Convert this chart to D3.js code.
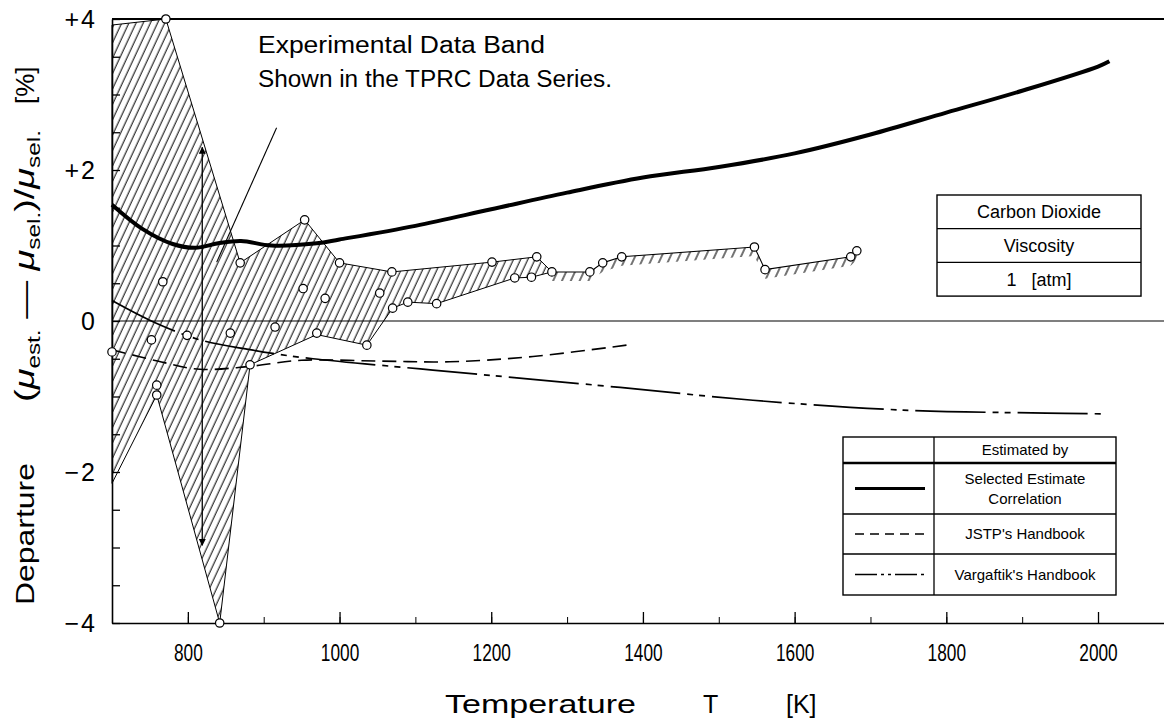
<!DOCTYPE html>
<html>
<head>
<meta charset="utf-8">
<script src="https://cdn.jsdelivr.net/npm/d3@7"></script>
<style>
  body { margin: 0; background: #fff; }
  svg { display: block; font-family: "Liberation Sans", Arial, Helvetica, sans-serif; }
</style>
</head>
<body>
<div id="chart"></div>
<script>
// axis ticks
const tempTicks = [800, 1000, 1200, 1400, 1600, 1800, 2000];
const depTicks = [4, 2, 0, -2, -4];
const depTickLabels = ["+4", "+2", "0", "\u22122", "\u22124"];

// selected estimate correlation (thick curve)
const selT   = [700, 740, 780, 810, 840, 870, 910, 970, 1000, 1100, 1200, 1300, 1400, 1500, 1600, 1700, 1800, 1900, 2000, 2015];
const selDep = [1.54, 1.22, 1.02, 0.97, 1.03, 1.06, 1.00, 1.03, 1.08, 1.26, 1.48, 1.70, 1.90, 2.04, 2.22, 2.47, 2.76, 3.05, 3.37, 3.44];

// JSTP's handbook (dashed)
const jstpT   = [700, 760, 816, 882, 950, 1050, 1145, 1255, 1385];
const jstpDep = [-0.38, -0.53, -0.64, -0.60, -0.52, -0.53, -0.54, -0.47, -0.31];

// Vargaftik's handbook (dash-dot)
const vargT   = [700, 754, 816, 882, 912, 965, 1123, 1370, 1545, 1743, 1932, 2009];
const vargDep = [0.27, -0.01, -0.25, -0.38, -0.43, -0.50, -0.65, -0.88, -1.05, -1.18, -1.22, -1.23];

// experimental data band
const bandUpperT   = [700, 771, 869, 954, 1000, 1069, 1201, 1260, 1280];
const bandUpperDep = [3.92, 4.0, 0.77, 1.34, 0.77, 0.65, 0.78, 0.85, 0.65];
const bandLowerT   = [700, 759, 842, 882, 970, 1036, 1070, 1090, 1128, 1231, 1253, 1280];
const bandLowerDep = [-2.15, -0.98, -4.0, -0.58, -0.18, -0.32, 0.17, 0.25, 0.23, 0.57, 0.58, 0.65];
const fringeT   = [1280, 1330, 1347, 1372, 1547, 1561, 1674, 1682];
const fringeDep = [0.65, 0.65, 0.77, 0.85, 0.98, 0.68, 0.85, 0.93];

// data points (open circles)
const pointT   = [771, 869, 954, 1000, 1069, 1201, 1260, 1280, 1330, 1347, 1372, 1547, 1561, 1674, 1682,
                  700, 759, 759, 842, 882, 752, 799, 856, 915, 970, 1036, 1070, 1090, 1128, 1231, 1253, 767, 952, 981, 1053];
const pointDep = [4.0, 0.77, 1.34, 0.77, 0.65, 0.78, 0.85, 0.65, 0.65, 0.77, 0.85, 0.98, 0.68, 0.85, 0.93,
                  -0.41, -0.85, -0.98, -4.0, -0.58, -0.25, -0.19, -0.16, -0.08, -0.16, -0.32, 0.17, 0.25, 0.23, 0.57, 0.58, 0.52, 0.43, 0.30, 0.37];

// arrow (spread of the band) and leader line
const arrowT = 819, arrowDep = [2.3, -2.97];
const leaderT = [917, 838], leaderDep = [2.56, 0.78];

const legendRows = ["Selected Estimate|Correlation", "JSTP's Handbook", "Vargaftik's Handbook"];
const infoRows = ["Carbon Dioxide", "Viscosity", "1   [atm]"];

const W = 1164, H = 722;
const svg = d3.select("#chart").append("svg").attr("width", W).attr("height", H);

const x = d3.scaleLinear().domain([700, 2087]).range([112, 1164]);
const y = d3.scaleLinear().domain([-4, 4]).range([623, 19]);

const defs = svg.append("defs");
defs.append("pattern").attr("id", "hatch")
  .attr("patternUnits", "userSpaceOnUse")
  .attr("width", 6.5).attr("height", 12)
  .attr("patternTransform", "rotate(25)")
  .append("line").attr("x1", 3).attr("y1", 0).attr("x2", 3).attr("y2", 12)
  .attr("stroke", "#000").attr("stroke-width", 1);
defs.append("pattern").attr("id", "fringe")
  .attr("patternUnits", "userSpaceOnUse")
  .attr("width", 8).attr("height", 12)
  .attr("patternTransform", "rotate(25)")
  .append("line").attr("x1", 4).attr("y1", 0).attr("x2", 4).attr("y2", 12)
  .attr("stroke", "#000").attr("stroke-width", 1.1);
defs.append("marker").attr("id", "arr")
  .attr("viewBox", "0 0 10 10").attr("refX", 9).attr("refY", 5)
  .attr("markerWidth", 7).attr("markerHeight", 9)
  .attr("markerUnits", "userSpaceOnUse")
  .attr("orient", "auto-start-reverse")
  .append("path").attr("d", "M0,0 L10,5 L0,10 z").attr("fill", "#000");

// band
const zipped = (ts, vs) => ts.map((t, i) => [t, vs[i]]);
const line = d3.line().x(d => x(d[0])).y(d => y(d[1]));
const bandPoly = zipped(bandUpperT, bandUpperDep).concat(zipped(bandLowerT, bandLowerDep).reverse());
svg.append("path").attr("d", line(bandPoly) + "Z")
  .attr("fill", "url(#hatch)").attr("stroke", "#000").attr("stroke-width", 1);

const fringe = zipped(fringeT, fringeDep);
svg.append("path")
  .attr("d", d3.area().x(d => x(d[0])).y1(d => y(d[1])).y0(d => y(d[1]) + 9)(fringe))
  .attr("fill", "url(#fringe)");
svg.append("path").attr("d", line(fringe)).attr("fill", "none").attr("stroke", "#000").attr("stroke-width", 1.1);

// axes
const gx = svg.append("g").attr("transform", `translate(0,${y(-4)})`);
gx.call(d3.axisBottom(x).tickValues(d3.range(800, 2087, 100)).tickSize(-6).tickSizeOuter(0).tickFormat(""));
gx.call(g => g.select(".domain").attr("stroke-width", 1.6));
const gx2 = svg.append("g").attr("transform", `translate(0,${y(-4)})`);
gx2.call(d3.axisBottom(x).tickValues(tempTicks).tickSize(-11).tickPadding(21).tickSizeOuter(0).tickFormat(d3.format("d")));
gx2.select(".domain").remove();
gx2.selectAll("text").attr("font-size", 24).attr("font-family", "Liberation Sans, Arial, sans-serif")
  .attr("transform", "scale(0.72,1)").attr("fill", "#000");
gx2.selectAll("line").attr("stroke-width", 1.3);

const gy = svg.append("g").attr("transform", `translate(${x(700)},0)`);
gy.call(d3.axisLeft(y).tickValues(d3.range(-4, 4.01, 0.5)).tickSize(-8).tickSizeOuter(0).tickFormat(""));
gy.selectAll("line").attr("stroke-width", 1.3);
gy.select(".domain").attr("stroke-width", 1.6);

svg.selectAll(".ylab").data(depTicks).join("text")
  .attr("x", 97).attr("y", d => y(d)).attr("dy", "0.36em")
  .attr("text-anchor", "end").attr("font-size", 25).attr("letter-spacing", 2)
  .text((d, i) => depTickLabels[i]);

// top frame line and zero line
svg.append("line").attr("x1", x(700)).attr("x2", W).attr("y1", y(4)).attr("y2", y(4))
  .attr("stroke", "#000").attr("stroke-width", 2.2);
svg.append("line").attr("x1", x(700)).attr("x2", W).attr("y1", y(0)).attr("y2", y(0))
  .attr("stroke", "#000").attr("stroke-width", 1.1);

// correlation curves
svg.append("path").attr("d", d3.line().x(d => x(d[0])).y(d => y(d[1])).curve(d3.curveCatmullRom)(zipped(selT, selDep)))
  .attr("fill", "none").attr("stroke", "#000").attr("stroke-width", 4);
svg.append("path").attr("d", d3.line().x(d => x(d[0])).y(d => y(d[1])).curve(d3.curveCatmullRom)(zipped(jstpT, jstpDep)))
  .attr("fill", "none").attr("stroke", "#000").attr("stroke-width", 1.6).attr("stroke-dasharray", "14,7");
svg.append("path").attr("d", d3.line().x(d => x(d[0])).y(d => y(d[1])).curve(d3.curveCatmullRom)(zipped(vargT, vargDep)))
  .attr("fill", "none").attr("stroke", "#000").attr("stroke-width", 1.7).attr("stroke-dasharray", "70,7,6,6,6,7");

// arrow and leader
svg.append("line").attr("x1", x(arrowT)).attr("x2", x(arrowT))
  .attr("y1", y(arrowDep[0])).attr("y2", y(arrowDep[1]))
  .attr("stroke", "#000").attr("stroke-width", 1.3)
  .attr("marker-start", "url(#arr)").attr("marker-end", "url(#arr)");
svg.append("line").attr("x1", x(leaderT[0])).attr("x2", x(leaderT[1]))
  .attr("y1", y(leaderDep[0])).attr("y2", y(leaderDep[1]))
  .attr("stroke", "#000").attr("stroke-width", 1.1);

// points
svg.selectAll(".pt").data(pointT).join("circle")
  .attr("cx", d => x(d)).attr("cy", (d, i) => y(pointDep[i])).attr("r", 4.2)
  .attr("fill", "#fff").attr("stroke", "#000").attr("stroke-width", 1.2);

// annotation
svg.append("text").attr("x", 258).attr("y", 53).attr("font-size", 23)
  .attr("textLength", 287).attr("lengthAdjust", "spacingAndGlyphs").text("Experimental Data Band");
svg.append("text").attr("x", 258).attr("y", 87).attr("font-size", 23)
  .attr("textLength", 354).attr("lengthAdjust", "spacingAndGlyphs").text("Shown in the TPRC Data Series.");

// x title
svg.append("text").attr("x", 445).attr("y", 713).attr("font-size", 25)
  .attr("textLength", 191).attr("lengthAdjust", "spacingAndGlyphs").text("Temperature");
svg.append("text").attr("x", 703).attr("y", 713).attr("font-size", 25).text("T");
svg.append("text").attr("x", 786).attr("y", 713).attr("font-size", 25).text("[K]");

// y title
const yt = svg.append("g").attr("transform", "translate(34,0) rotate(-90)");
yt.append("text").attr("x", -605).attr("y", 0).attr("font-size", 26)
  .attr("textLength", 142).attr("lengthAdjust", "spacingAndGlyphs").text("Departure");
const f = yt.append("text").attr("x", -402).attr("y", 0).attr("font-size", 28)
  .attr("textLength", 272).attr("lengthAdjust", "spacingAndGlyphs");
f.append("tspan").text("(");
f.append("tspan").attr("font-style", "italic").text("\u03bc");
f.append("tspan").attr("font-size", 18).attr("dy", 6).text("est.");
f.append("tspan").attr("dy", -6).text(" \u2014 ");
f.append("tspan").attr("font-style", "italic").text("\u03bc");
f.append("tspan").attr("font-size", 18).attr("dy", 6).text("sel.");
f.append("tspan").attr("dy", -6).text(")/");
f.append("tspan").attr("font-style", "italic").text("\u03bc");
f.append("tspan").attr("font-size", 18).attr("dy", 6).text("sel.");
yt.append("text").attr("x", -104).attr("y", 0).attr("font-size", 26).text("[%]");

// info table
const info = svg.append("g");
const ib = { x0: 937, x1: 1141, y0: 195, h: 33.7 };
info.append("rect").attr("x", ib.x0).attr("y", ib.y0).attr("width", ib.x1 - ib.x0).attr("height", ib.h * 3)
  .attr("fill", "#fff").attr("stroke", "#000").attr("stroke-width", 1.4);
infoRows.forEach((r, i) => {
  if (i > 0) info.append("line").attr("x1", ib.x0).attr("x2", ib.x1)
    .attr("y1", ib.y0 + i * ib.h).attr("y2", ib.y0 + i * ib.h).attr("stroke", "#000").attr("stroke-width", 1.3);
  info.append("text").attr("x", (ib.x0 + ib.x1) / 2).attr("y", ib.y0 + i * ib.h + ib.h / 2)
    .attr("dy", "0.36em").attr("text-anchor", "middle").attr("font-size", 18)
    .attr("xml:space", "preserve").text(r);
});

// legend table
const lg = svg.append("g");
const lb = { x0: 843, x1: 1116, xc: 934, rows: [437, 463, 514, 554, 595] };
lg.append("rect").attr("x", lb.x0).attr("y", lb.rows[0]).attr("width", lb.x1 - lb.x0)
  .attr("height", lb.rows[4] - lb.rows[0]).attr("fill", "#fff").attr("stroke", "#000").attr("stroke-width", 1.4);
lg.append("line").attr("x1", lb.xc).attr("x2", lb.xc).attr("y1", lb.rows[0]).attr("y2", lb.rows[4])
  .attr("stroke", "#000").attr("stroke-width", 1.3);
lb.rows.slice(1, 4).forEach((ry, i) => {
  lg.append("line").attr("x1", lb.x0).attr("x2", lb.x1).attr("y1", ry).attr("y2", ry)
    .attr("stroke", "#000").attr("stroke-width", i === 0 ? 2.4 : 1.3);
});
const lgText = (t, cy) => lg.append("text").attr("x", (lb.xc + lb.x1) / 2).attr("y", cy).attr("dy", "0.36em")
  .attr("text-anchor", "middle").attr("font-size", 15).text(t);
lgText("Estimated by", 450);
legendRows.forEach((r, i) => {
  const top = lb.rows[i + 1], bot = lb.rows[i + 2], cy = (top + bot) / 2;
  const parts = r.split("|");
  if (parts.length === 2) { lgText(parts[0], cy - 10); lgText(parts[1], cy + 10); }
  else lgText(parts[0], cy);
});
const sample = [["4", null, 3], ["1.4", "9,6", 1.4], ["1.6", "22,4,3,4,3,4", 1.6]];
sample.forEach((s, i) => {
  const cy = (lb.rows[i + 1] + lb.rows[i + 2]) / 2;
  lg.append("line").attr("x1", 855).attr("x2", 925).attr("y1", cy).attr("y2", cy)
    .attr("stroke", "#000").attr("stroke-width", s[2]).attr("stroke-dasharray", s[1]);
});
</script>
</body>
</html>
